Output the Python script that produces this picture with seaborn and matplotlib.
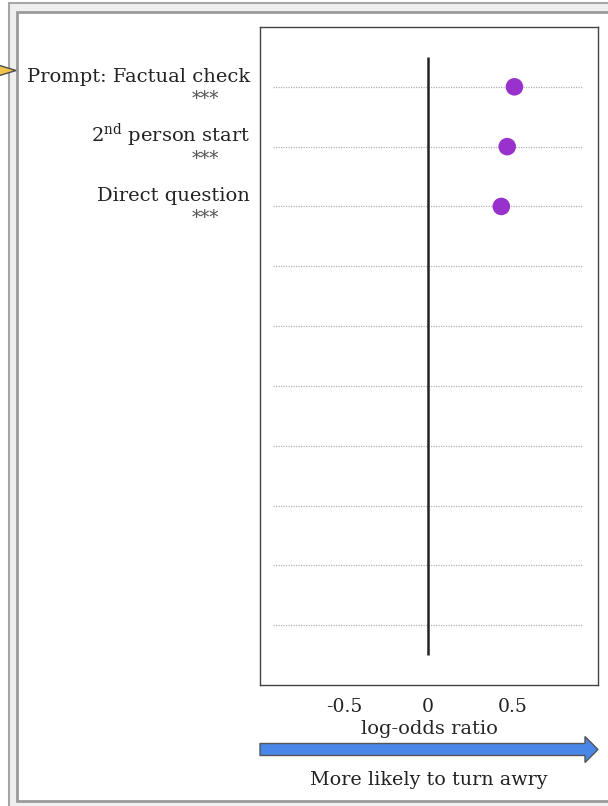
import matplotlib
matplotlib.use("Agg")
import matplotlib.pyplot as plt
from matplotlib.patches import Rectangle, Polygon, FancyArrow
import seaborn as sns
import pandas as pd

# Coefficients (log-odds ratio) for the features shown; the panel has 10 rows
features = ["Prompt: Factual check", "2$^{\\rm nd}$ person start", "Direct question"]
log_odds = [0.513, 0.470, 0.435]
stars = ["***", "***", "***"]
n_rows = 10
xticks = [-0.5, 0, 0.5]
xtick_labels = ["-0.5", "0", "0.5"]

sns.set_style("white")
plt.rcParams["font.family"] = ["DejaVu Serif"]
plt.rcParams["mathtext.fontset"] = "dejavuserif"

W, H = 608, 806
fig = plt.figure(figsize=(W / 100, H / 100), dpi=100)


def fx(px):
    return px / W


def fy(py):
    return 1 - py / H


# panel frame
fig.patches.append(Rectangle((fx(9), fy(830)), fx(700), (830 - 3) / H,
                             transform=fig.transFigure, facecolor="#efefef",
                             edgecolor="#a6a6a6", lw=1.5, zorder=-2))
fig.patches.append(Rectangle((fx(17), fy(801)), fx(700), (801 - 12) / H,
                             transform=fig.transFigure, facecolor="white",
                             edgecolor="#9a9a9a", lw=2, zorder=-1))

# pointer tip coming in from the left
fig.patches.append(Polygon([(fx(-2), fy(65)), (fx(16), fy(70.5)), (fx(-2), fy(76))],
                           closed=True, transform=fig.transFigure,
                           facecolor="#f0c44c", edgecolor="#4d4d4d", lw=1, zorder=1))

ax = fig.add_axes([fx(260), fy(685), fx(598) - fx(260), (685 - 27) / H])
ax.set_zorder(2)

df = pd.DataFrame({"feature": features, "coef": log_odds, "row": range(len(features))})

# dotted guide lines for every row
for r in range(n_rows):
    ax.hlines(r, -0.92, 0.92, colors="#b4b4b4", linestyles=(0, (1, 1)), lw=0.9, zorder=1)

# reference line at zero
ax.vlines(0, -0.5, n_rows - 0.5, colors="#222222", lw=1.8, zorder=2)

sns.scatterplot(data=df, x="coef", y="row", color="#9932cc", s=160,
                edgecolor="none", ax=ax, zorder=3, legend=False)

ax.set_xlim(-1.0, 1.01)
ax.set_ylim(n_rows, -1)
ax.set_xticks(xticks)
ax.set_xticklabels(xtick_labels, fontsize=13.5)
ax.set_yticks([])
ax.set_ylabel("")
ax.set_xlabel("log-odds ratio", fontsize=14, labelpad=3)
ax.tick_params(axis="x", length=0, pad=9, colors="#222222")
for sp in ax.spines.values():
    sp.set_color("#444444")
    sp.set_linewidth(1.0)

# feature names with significance stars, right-aligned beside the axes
trans = ax.get_yaxis_transform()
for i, (name, st) in enumerate(zip(features, stars)):
    ax.text(-0.03, i - 0.085, name, transform=trans, ha="right", va="baseline",
            fontsize=14, color="#222222")
    ax.text(-0.121, i + 0.2, st, transform=trans, ha="right", va="center",
            fontsize=13, color="#555555")

# direction arrow under the axis
fig.patches.append(FancyArrow(fx(260), fy(749.5), fx(585) - fx(260), 0,
                              width=12 / H, head_width=26 / H, head_length=fx(13),
                              length_includes_head=False, transform=fig.transFigure,
                              facecolor="#4a86e8", edgecolor="#555555", lw=1, zorder=3))
fig.text(fx(429), fy(780), "More likely to turn awry", ha="center", va="center",
         fontsize=13.8, color="#222222")

fig.savefig("out.png", dpi=100)
